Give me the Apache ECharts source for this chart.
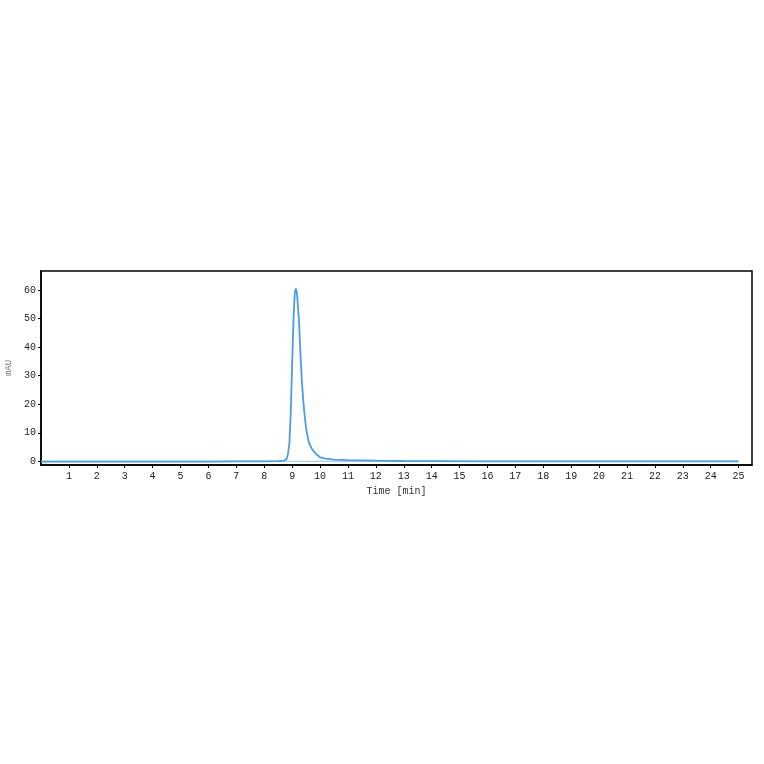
<!DOCTYPE html>
<html><head><meta charset="utf-8">
<script src="https://cdn.jsdelivr.net/npm/echarts@6/dist/echarts.min.js"></script>
<style>html,body{margin:0;padding:0;background:#fff}#c{width:764px;height:764px}</style>
</head><body><div id="c"></div>
<script>
const times = [0,2,4,6,7,8,8.5,8.7,8.8,8.85,8.9,8.95,9.0,9.05,9.08,9.1,9.13,9.16,9.18,9.2,9.25,9.3,9.35,9.4,9.45,9.5,9.6,9.7,9.8,9.9,10,10.2,10.5,11,11.5,12,13,14,16,18,20,22,24,25];
const signal = [-0.1,-0.1,-0.1,-0.1,0,0,0.05,0.2,0.8,2.5,6,17,34,50,56.5,59.3,60.6,59.6,58,55.5,48.5,37,28,21,16,11.5,6.5,4.5,3.2,2.2,1.4,0.9,0.6,0.4,0.3,0.2,0.1,0.05,0,0,0,0,0,0];
const baseTimes = [0,25];
const baseValues = [0,0];
const xTicks = [1,2,3,4,5,6,7,8,9,10,11,12,13,14,15,16,17,18,19,20,21,22,23,24,25];
const yTicks = [0,10,20,30,40,50,60];

const chart = echarts.init(document.getElementById('c'));
const font = 'Liberation Mono';
chart.setOption({
  animation:false,
  backgroundColor:'#fff',
  grid:{left:41,right:12,top:271,bottom:299,show:true,borderColor:'#000',borderWidth:1.5,containLabel:false,outerBoundsMode:'none'},
  xAxis:{type:'value',min:0,max:25.48,name:'Time [min]',nameLocation:'middle',nameGap:21,
    nameTextStyle:{fontFamily:font,fontSize:10,color:'#333'},
    axisLine:{show:true,onZero:false,lineStyle:{color:'#000',width:1.5}},
    axisTick:{show:true,length:3,inside:false,customValues:xTicks,lineStyle:{color:'#000'}},
    axisLabel:{customValues:xTicks,fontFamily:font,fontSize:10,color:'#222',margin:6},
    splitLine:{show:false}},
  yAxis:{type:'value',min:-1.3,max:66.7,name:'mAU',nameLocation:'middle',nameGap:21,
    nameTextStyle:{fontFamily:font,fontSize:9,color:'#777'},
    axisLine:{show:true,onZero:false,lineStyle:{color:'#000',width:1.5}},
    axisTick:{show:true,length:3,customValues:yTicks,lineStyle:{color:'#000'}},
    axisLabel:{customValues:yTicks,fontFamily:font,fontSize:10,color:'#222',margin:5},
    splitLine:{show:false}},
  series:[
    {type:'line',data:baseTimes.map((t,i)=>[t,baseValues[i]]),symbol:'none',
      lineStyle:{color:'#8cc2f0',width:1},z:1},
    {type:'line',data:times.map((t,i)=>[t,signal[i]]),symbol:'none',smooth:false,
      lineStyle:{color:'#4a9ee8',width:1.8},z:2}
  ]
});
</script></body></html>
